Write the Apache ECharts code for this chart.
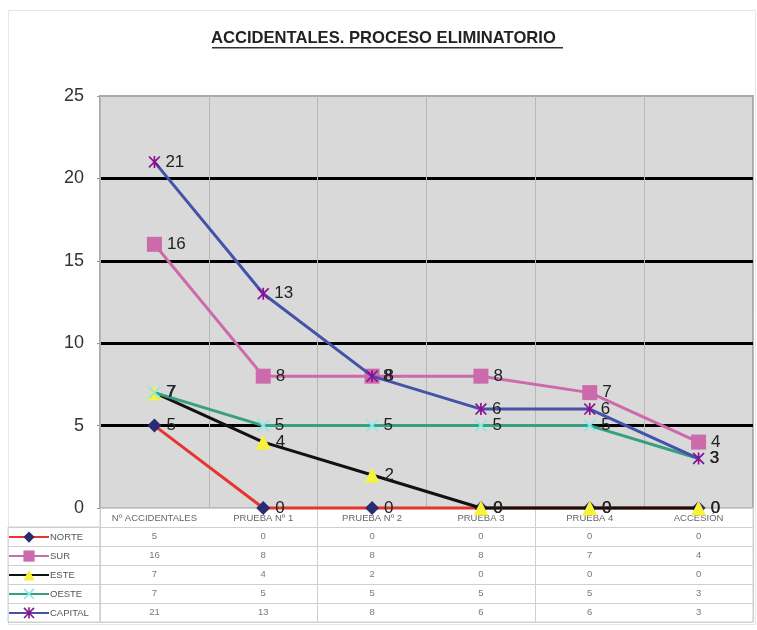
<!DOCTYPE html>
<html><head><meta charset="utf-8">
<script src="https://cdn.jsdelivr.net/npm/echarts@6/dist/echarts.min.js"></script>
<style>html,body{margin:0;padding:0;background:#fff}#c{width:757px;height:630px}</style>
</head><body><div id="c"></div>
<script>
// ---- data ----
const titleText = 'ACCIDENTALES. PROCESO ELIMINATORIO';
const categories = ['Nº ACCIDENTALES', 'PRUEBA Nº 1', 'PRUEBA Nº 2', 'PRUEBA 3', 'PRUEBA 4', 'ACCESIÓN'];
const seriesNames = ['NORTE', 'SUR', 'ESTE', 'OESTE', 'CAPITAL'];
const norte   = [5, 0, 0, 0, 0, 0];
const sur     = [16, 8, 8, 8, 7, 4];
const este    = [7, 4, 2, 0, 0, 0];
const oeste   = [7, 5, 5, 5, 5, 3];
const capital = [21, 13, 8, 6, 6, 3];
const yMin = 0, yMax = 25, yInterval = 5;
const seriesValues = [norte, sur, este, oeste, capital];

// ---- styles ----
const X_PATH = 'path://M0,1L1,0L5,4L9,0L10,1L6,5L10,9L9,10L5,6L1,10L0,9L4,5Z';
const STAR_PATH = 'path://M0,1L1,0L5,4L9,0L10,1L6,5L10,9L9,10L5,6L1,10L0,9L4,5Z M4.3,0H5.7V10H4.3Z';
const styles = [
  {line: '#e2362f', marker: '#2b2b72', symbol: 'diamond', size: 14},
  {line: '#cc6aab', marker: '#cc6aab', symbol: 'rect', size: 15},
  {line: '#111111', marker: '#f7f23a', symbol: 'triangle', size: 15},
  {line: '#36a07f', marker: '#8de8ea', symbol: X_PATH, size: 13},
  {line: '#4253a8', marker: '#8a1290', symbol: STAR_PATH, size: 12}
];
const FONT = 'Liberation Sans, Arial, sans-serif';

const lineSeries = seriesNames.map((name, k) => ({
  name: name,
  type: 'line',
  xAxisIndex: 0, yAxisIndex: 0,
  data: seriesValues[k],
  clip: false,
  symbol: styles[k].symbol,
  symbolSize: styles[k].size,
  showAllSymbol: true,
  lineStyle: {color: styles[k].line, width: 3},
  itemStyle: {color: styles[k].marker},
  label: {show: true, position: 'right', distance: 5, fontSize: 17, color: '#222', fontFamily: FONT},
  emphasis: {disabled: true},
  z: 3 + k
}));

const tableData = [];
seriesValues.forEach((vals, k) => vals.forEach((v, i) => tableData.push([i, k + 1, v])));

const option = {
  animation: false,
  backgroundColor: '#fff',
  title: {
    text: titleText, left: 211, top: 30, padding: 0,
    textStyle: {fontSize: 16.6, fontWeight: 'bold', color: '#222', fontFamily: FONT}
  },
  graphic: [
    {type: 'rect', shape: {x: 8.5, y: 10.5, width: 747, height: 614}, style: {fill: 'none', stroke: '#e6e6e6', lineWidth: 1}, z: -10},
    {type: 'rect', shape: {x: 212, y: 47, width: 351, height: 1.6}, style: {fill: '#333'}}
  ],
  legend: {
    data: seriesNames,
    orient: 'vertical',
    left: 8, top: 531.5, padding: 0,
    itemWidth: 40, itemHeight: 14, itemGap: 7.75,
    textStyle: {fontSize: 9.5, color: '#555', fontFamily: FONT, padding: [0, 0, 0, -4]},
    selectedMode: false
  },
  grid: [
    {left: 100, right: 4, top: 96, bottom: 122, show: true, backgroundColor: '#d9d9d9', borderColor: '#a9a9a9', borderWidth: 2},
    {left: 100, right: 4, top: 508, bottom: 8, show: true, backgroundColor: 'transparent', borderColor: '#cfcfcf', borderWidth: 1},
    {left: 8, width: 92, top: 527, bottom: 8, show: true, backgroundColor: 'transparent', borderColor: '#cfcfcf', borderWidth: 1}
  ],
  xAxis: [
    {
      gridIndex: 0, type: 'category', data: categories, boundaryGap: true,
      axisLine: {show: false}, axisTick: {show: false},
      axisLabel: {interval: 0, fontSize: 9.5, color: '#666', margin: 5, fontFamily: FONT},
      splitLine: {show: true, lineStyle: {color: '#b8b8b8', width: 1}}
    },
    {
      gridIndex: 1, type: 'category', data: categories, boundaryGap: true,
      axisLine: {show: false}, axisTick: {show: false}, axisLabel: {show: false},
      splitLine: {show: true, lineStyle: {color: '#cfcfcf', width: 1}}
    },
    {
      gridIndex: 2, type: 'category', data: [''], boundaryGap: true,
      axisLine: {show: false}, axisTick: {show: false}, axisLabel: {show: false},
      splitLine: {show: false}
    }
  ],
  yAxis: [
    {
      gridIndex: 0, type: 'value', min: yMin, max: yMax, interval: yInterval,
      axisLine: {show: false},
      axisTick: {show: true, length: 3, lineStyle: {color: '#999'}},
      axisLabel: {fontSize: 18, color: '#333', margin: 16, fontFamily: FONT},
      splitLine: {show: true, lineStyle: {color: ['transparent', '#000', '#000', '#000', '#000', 'transparent'], width: 3}}
    },
    {
      gridIndex: 1, type: 'category', data: [''].concat(seriesNames), inverse: true, boundaryGap: true,
      axisLine: {show: false}, axisTick: {show: false}, axisLabel: {show: false},
      splitLine: {show: true, lineStyle: {color: '#cfcfcf', width: 1}}
    },
    {
      gridIndex: 2, type: 'category', data: seriesNames, inverse: true, boundaryGap: true,
      axisLine: {show: false}, axisTick: {show: false}, axisLabel: {show: false},
      splitLine: {show: true, lineStyle: {color: '#cfcfcf', width: 1}}
    }
  ],
  series: lineSeries.concat([{
    name: 'table', type: 'scatter', xAxisIndex: 1, yAxisIndex: 1,
    data: tableData, symbolSize: 1,
    itemStyle: {color: 'transparent'},
    label: {show: true, position: 'inside', formatter: p => String(p.value[2]), fontSize: 9.5, color: '#555', fontFamily: FONT},
    emphasis: {disabled: true}, silent: true
  }])
};

const chart = echarts.init(document.getElementById('c'), null, {renderer: 'canvas'});
chart.setOption(option);
</script>
</body></html>
